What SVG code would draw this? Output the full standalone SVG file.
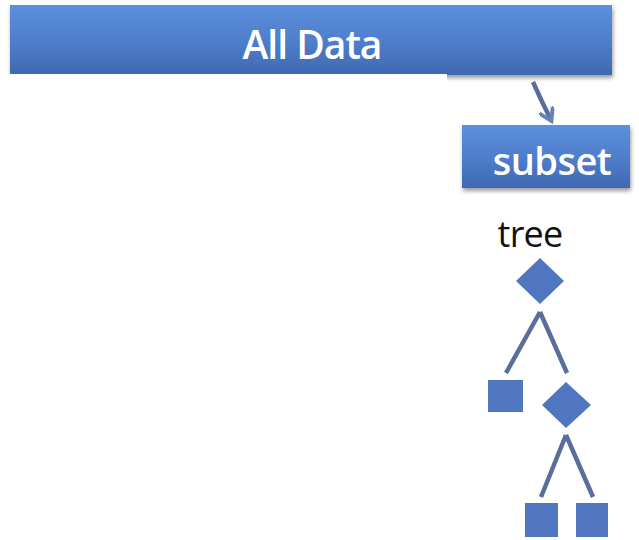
<svg xmlns="http://www.w3.org/2000/svg" width="639" height="540" viewBox="0 0 639 540">
  <defs>
    <linearGradient id="boxFill" x1="0" y1="0" x2="0" y2="1">
      <stop offset="0" stop-color="#5c8fdc"/>
      <stop offset="0.5" stop-color="#4f7fcc"/>
      <stop offset="1" stop-color="#3f68b0"/>
    </linearGradient>
    <filter id="shadow" x="-5%" y="-10%" width="110%" height="130%">
      <feGaussianBlur in="SourceAlpha" stdDeviation="2"/>
      <feOffset dx="1" dy="3" result="b"/>
      <feComponentTransfer><feFuncA type="linear" slope="0.4"/></feComponentTransfer>
      <feMerge><feMergeNode/><feMergeNode in="SourceGraphic"/></feMerge>
    </filter>
    <marker id="head" viewBox="0 0 10 10" refX="6" refY="5" markerWidth="3.5" markerHeight="3.5" orient="auto">
      <path d="M0,0 L8,5 L0,10" fill="none" stroke="#6482b5" stroke-width="2.5"/>
    </marker>
    <style>
      .box { fill: url(#boxFill); filter: url(#shadow); }
      .label { font-family: "Open Sans", "Liberation Sans", sans-serif; font-weight: 600; fill: #ffffff; text-anchor: middle; }
      .shape { fill: #4f76bf; }
      .edge { stroke: #5a6e9c; stroke-width: 4.5; fill: none; }
    </style>
  </defs>
  <rect width="639" height="540" fill="#ffffff"/>

  <g id="all-data">
    <rect class="box" x="10" y="5" width="602" height="70"/>
    <text class="label" x="312" y="59" font-size="39" letter-spacing="-1">All Data</text>
  </g>
  <!-- white panel cutting into the lower part of the wide box -->
  <rect x="0" y="74" width="447" height="30" fill="#ffffff"/>

  <g id="subset">
    <rect class="box" x="462" y="125" width="168" height="63"/>
    <text class="label" x="552" y="175" font-size="38" letter-spacing="-0.5">subset</text>
  </g>

  <g id="connectors">
    <path class="edge" d="M533,82 Q541,100 550,118" stroke="#6482b5" stroke-width="5" marker-end="url(#head)"/>
    <path class="edge" d="M540,312 L506,373 M540,312 L567,373"/>
    <path class="edge" d="M566,435 L541,497 M566,435 L593,497"/>
  </g>

  <g id="tree-label">
    <text x="530" y="247" font-family="Open Sans, Liberation Sans, sans-serif" font-size="36" letter-spacing="-0.8" text-anchor="middle" fill="#111111">tree</text>
  </g>

  <g id="root-split">
    <polygon class="shape" points="540,258 564,281 540,304 516,281"/>
  </g>
  <g id="leaf-1">
    <rect class="shape" x="488" y="380" width="35" height="32"/>
  </g>
  <g id="inner-split">
    <polygon class="shape" points="566,382 591,405 566,428 542,405"/>
  </g>
  <g id="leaf-2">
    <rect class="shape" x="525" y="503" width="33" height="34"/>
  </g>
  <g id="leaf-3">
    <rect class="shape" x="576" y="503" width="32" height="34"/>
  </g>
</svg>
